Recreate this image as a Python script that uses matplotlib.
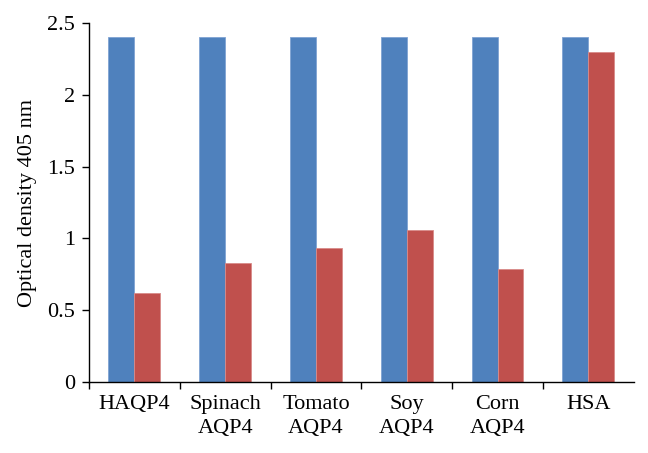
import numpy as np
import matplotlib
matplotlib.use('Agg')
import matplotlib.pyplot as plt

# data
categories = ['HAQP4', 'Spinach\nAQP4', 'Tomato\nAQP4', 'Soy\nAQP4', 'Corn\nAQP4', 'HSA']
blue_values = [2.40, 2.40, 2.40, 2.40, 2.40, 2.40]
red_values = [0.62, 0.83, 0.93, 1.06, 0.79, 2.30]
y_ticks = [0, 0.5, 1, 1.5, 2, 2.5]
y_tick_labels = ['0', '0.5', '1', '1.5', '2', '2.5']

plt.rcParams['font.family'] = ['Liberation Serif', 'DejaVu Serif']

fig = plt.figure(figsize=(6.48, 4.53), dpi=100)
ax = fig.add_axes([0.1373, 0.1567, 0.8407, 0.7925])

x = np.arange(len(categories))
width = 0.2857
ax.bar(x - width / 2, blue_values, width, color='#4F81BD', edgecolor='#7FA3D3', linewidth=0.6)
ax.bar(x + width / 2, red_values, width, color='#C0504D', edgecolor='#D98B89', linewidth=0.6)

ax.set_xlim(-0.5, len(categories) - 0.5)
ax.set_ylim(0, 2.5)
ax.set_yticks(y_ticks)
ax.set_yticklabels(y_tick_labels, fontsize=16)
ax.set_xticks(x)
ax.set_xticklabels(categories, fontsize=16, linespacing=1.4)
ax.set_xticks(np.arange(-0.5, len(categories) - 0.5, 1.0), minor=True)
ax.tick_params(axis='x', which='major', length=0, pad=9)
ax.tick_params(axis='x', which='minor', length=5, width=1.0, direction='out')
ax.tick_params(axis='y', length=5, width=1.0, direction='out', pad=5)

ax.set_ylabel('Optical density 405 nm', fontsize=16, labelpad=7)

for side in ['top', 'right']:
    ax.spines[side].set_visible(False)
for side in ['left', 'bottom']:
    ax.spines[side].set_linewidth(1.0)

fig.savefig('out.png', dpi=100)
